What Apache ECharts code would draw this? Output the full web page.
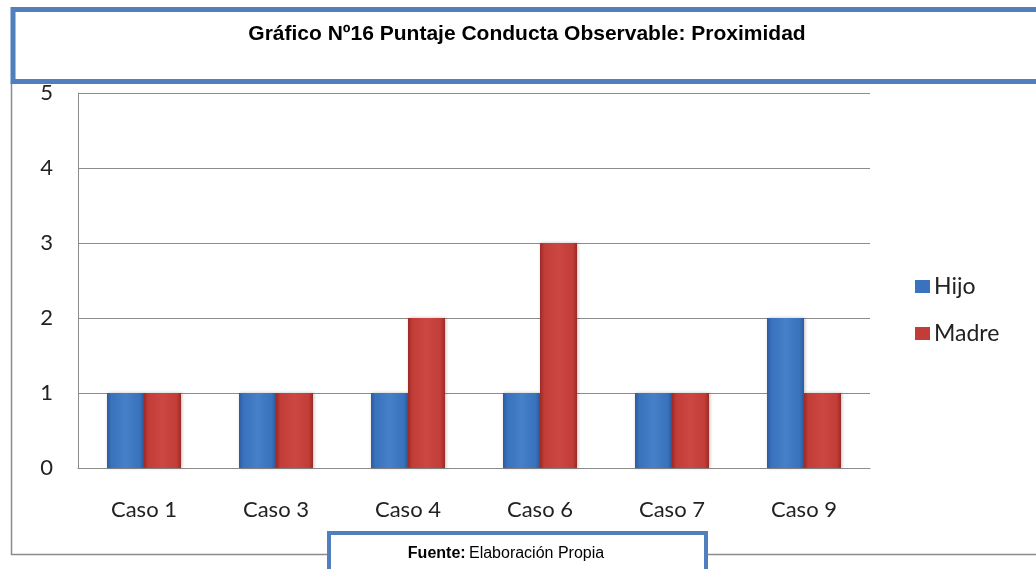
<!DOCTYPE html>
<html>
<head>
<meta charset="utf-8">
<script src="https://cdn.jsdelivr.net/npm/echarts@6/dist/echarts.min.js"></script>
<style>
  html, body { margin: 0; padding: 0; background: #fff; }
  #chart { width: 1036px; height: 569px; }
</style>
</head>
<body>
<div id="chart"></div>
<script>
// datos
const categories = ['Caso 1', 'Caso 3', 'Caso 4', 'Caso 6', 'Caso 7', 'Caso 9']
const hijo = [1, 1, 1, 1, 1, 2]
const madre = [1, 1, 2, 3, 1, 1]
const yTicks = [0, 1, 2, 3, 4, 5]

const chart = echarts.init(document.getElementById('chart'))

// degradado horizontal para el efecto de bisel
function bevel(dark, mid, light) {
  return new echarts.graphic.LinearGradient(0, 0, 1, 0, [
    { offset: 0, color: dark },
    { offset: 0.12, color: mid },
    { offset: 0.5, color: light },
    { offset: 0.88, color: mid },
    { offset: 1, color: dark }
  ])
}
const blue = bevel('#2b5c9c', '#3a72bd', '#4580c8')
const red = bevel('#9c2a26', '#c23d38', '#cc4642')

const labelFont = 'Lato, "Open Sans", sans-serif'

const option = {
  animation: false,
  grid: { left: 78, right: 166, top: 93, bottom: 101 },
  legend: {
    orient: 'vertical',
    left: 910,
    top: 270,
    itemGap: 24,
    itemWidth: 15,
    itemHeight: 13,
    icon: 'rect',
    textStyle: { fontSize: 23, color: '#222', fontFamily: labelFont, padding: [0, 0, 0, -1] },
    data: [
      { name: 'Hijo', itemStyle: { color: '#3a72bd' } },
      { name: 'Madre', itemStyle: { color: '#c23d38' } }
    ]
  },
  xAxis: {
    type: 'category',
    data: categories,
    axisTick: { show: false },
    axisLine: { lineStyle: { color: '#8c8c8c', width: 1 } },
    axisLabel: { fontSize: 22, color: '#222', fontFamily: labelFont, margin: 31 }
  },
  yAxis: {
    type: 'value',
    min: yTicks[0],
    max: yTicks[yTicks.length - 1],
    interval: 1,
    axisLine: { show: true, lineStyle: { color: '#8c8c8c', width: 1 } },
    axisTick: { show: false },
    splitLine: { lineStyle: { color: '#8c8c8c', width: 1 } },
    axisLabel: { fontSize: 22, color: '#222', fontFamily: labelFont, margin: 25 }
  },
  series: [
    {
      name: 'Hijo',
      type: 'bar',
      data: hijo,
      barWidth: 37,
      barGap: '0%',
      itemStyle: { color: blue, shadowColor: 'rgba(0,0,0,0.25)', shadowBlur: 3, shadowOffsetX: 1 }
    },
    {
      name: 'Madre',
      type: 'bar',
      data: madre,
      barWidth: 37,
      barGap: '0%',
      itemStyle: { color: red, shadowColor: 'rgba(0,0,0,0.25)', shadowBlur: 3, shadowOffsetX: 1 }
    }
  ],
  graphic: [
    // borde exterior del gráfico
    {
      type: 'polyline',
      z: 1,
      shape: { points: [[11.5, 82], [11.5, 554.5], [1040, 554.5]] },
      style: { stroke: '#8c8c8c', lineWidth: 1.5, fill: null }
    },
    // recuadro del título (tapa la parte superior del "5")
    {
      type: 'rect',
      z: 100,
      shape: { x: 13, y: 9.5, width: 1100, height: 72 },
      style: { fill: '#fff', stroke: '#4f7fbd', lineWidth: 5 }
    },
    {
      type: 'text',
      z: 101,
      style: {
        x: 527,
        y: 34,
        align: 'center',
        verticalAlign: 'middle',
        text: 'Gráfico Nº16 Puntaje Conducta Observable: Proximidad',
        font: 'bold 21px "Liberation Sans", Arial, sans-serif',
        fill: '#000'
      }
    },
    // recuadro de la fuente
    {
      type: 'rect',
      z: 100,
      shape: { x: 329, y: 533, width: 377, height: 45 },
      style: { fill: '#fff', stroke: '#4f7fbd', lineWidth: 4 }
    },
    {
      type: 'text',
      z: 101,
      style: {
        x: 506,
        y: 554,
        align: 'center',
        verticalAlign: 'middle',
        rich: {
          b: { font: 'bold 16px "Liberation Sans", Arial, sans-serif', fill: '#000' },
          n: { font: '16px "Liberation Sans", Arial, sans-serif', fill: '#000' }
        },
        text: '{b|Fuente:} {n|Elaboración Propia}'
      }
    }
  ]
}

chart.setOption(option)
</script>
</body>
</html>
